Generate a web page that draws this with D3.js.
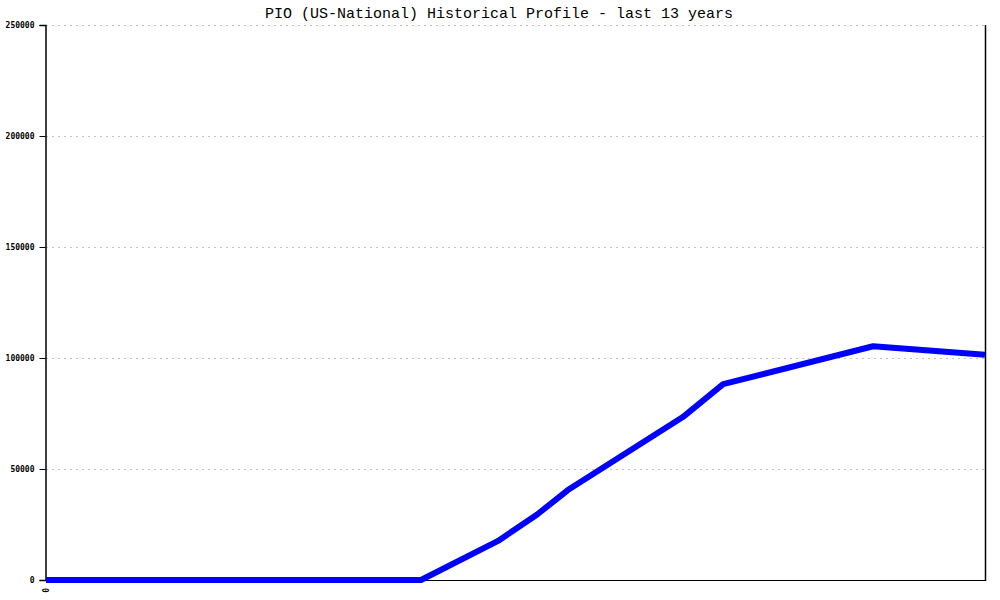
<!DOCTYPE html>
<html>
<head>
<meta charset="utf-8">
<script src="https://cdn.jsdelivr.net/npm/d3@7"></script>
<style>
  html, body { margin: 0; padding: 0; background: #fff; }
  svg { display: block; }
</style>
</head>
<body>
<svg id="chart" width="1000" height="600"></svg>
<script>
// Data: month index over the 13-year window (0..156) and value
const titleText = "PIO (US-National) Historical Profile - last 13 years";
const months = [0, 62.3, 75.1, 81.6, 86.7, 105.8, 112.5, 137.4, 156];
const values = [0, 0, 17600, 29500, 40500, 73400, 88200, 105300, 101500];
const yTicks = [0, 50000, 100000, 150000, 200000, 250000];
const xTickLabels = ["0"];

const svg = d3.select("#chart");
const margin = { left: 46, right: 15, top: 25, bottom: 20 };
const W = 1000, H = 600;
const x = d3.scaleLinear().domain([0, 156]).range([margin.left, W - margin.right]);
const y = d3.scaleLinear().domain([0, 250000]).range([H - margin.bottom, margin.top]);

// Title
svg.append("text")
  .attr("x", 499).attr("y", 18)
  .attr("text-anchor", "middle")
  .style("font-family", "'Liberation Mono', 'DejaVu Sans Mono', monospace")
  .style("font-size", "15px")
  .attr("fill", "#000")
  .text(titleText);

// Grid lines
svg.append("g").selectAll("line").data(yTicks.filter(d => d > 0)).join("line")
  .attr("x1", x(0)).attr("x2", x(156))
  .attr("y1", d => Math.round(y(d)) + 0.5).attr("y2", d => Math.round(y(d)) + 0.5)
  .attr("stroke", "#c4c4c4").attr("stroke-dasharray", "2,4");

// Left axis
const yAxis = d3.axisLeft(y).tickValues(yTicks).tickSize(6).tickPadding(5).tickFormat(d3.format("d"));
const gy = svg.append("g").attr("transform", `translate(${margin.left - 0.5},0)`).call(yAxis);
gy.select(".domain").attr("stroke", "#000").attr("stroke-width", 1.5);
gy.selectAll(".tick line").attr("stroke", "#000");
gy.selectAll(".tick text")
  .style("font-family", "'DejaVu Sans Mono', monospace")
  .style("font-size", "8px").style("font-weight", "bold").attr("fill", "#000");

// Bottom axis line
svg.append("line")
  .attr("x1", x(0)).attr("x2", x(156))
  .attr("y1", y(0) + 0.5).attr("y2", y(0) + 0.5)
  .attr("stroke", "#000").attr("stroke-width", 1);

// Right border
svg.append("line")
  .attr("x1", x(156) + 0.5).attr("x2", x(156) + 0.5)
  .attr("y1", y(250000)).attr("y2", y(0) + 1)
  .attr("stroke", "#000").attr("stroke-width", 1.5);

// X tick label "0" rotated
svg.append("g").selectAll("text").data(xTickLabels).join("text")
  .attr("transform", `translate(${x(0) + 3},${y(0) + 8}) rotate(-90)`)
  .attr("text-anchor", "end")
  .style("font-family", "'DejaVu Sans Mono', monospace")
  .style("font-size", "8px").style("font-weight", "bold")
  .text(d => d);

// Line
const pts = months.map((m, i) => [m, values[i]]);
svg.append("path")
  .datum(pts)
  .attr("fill", "none")
  .attr("stroke", "#0000ff")
  .attr("stroke-width", 6)
  .attr("stroke-linejoin", "round")
  .attr("d", d3.line().x(d => x(d[0])).y(d => y(d[1])));
</script>
</body>
</html>
